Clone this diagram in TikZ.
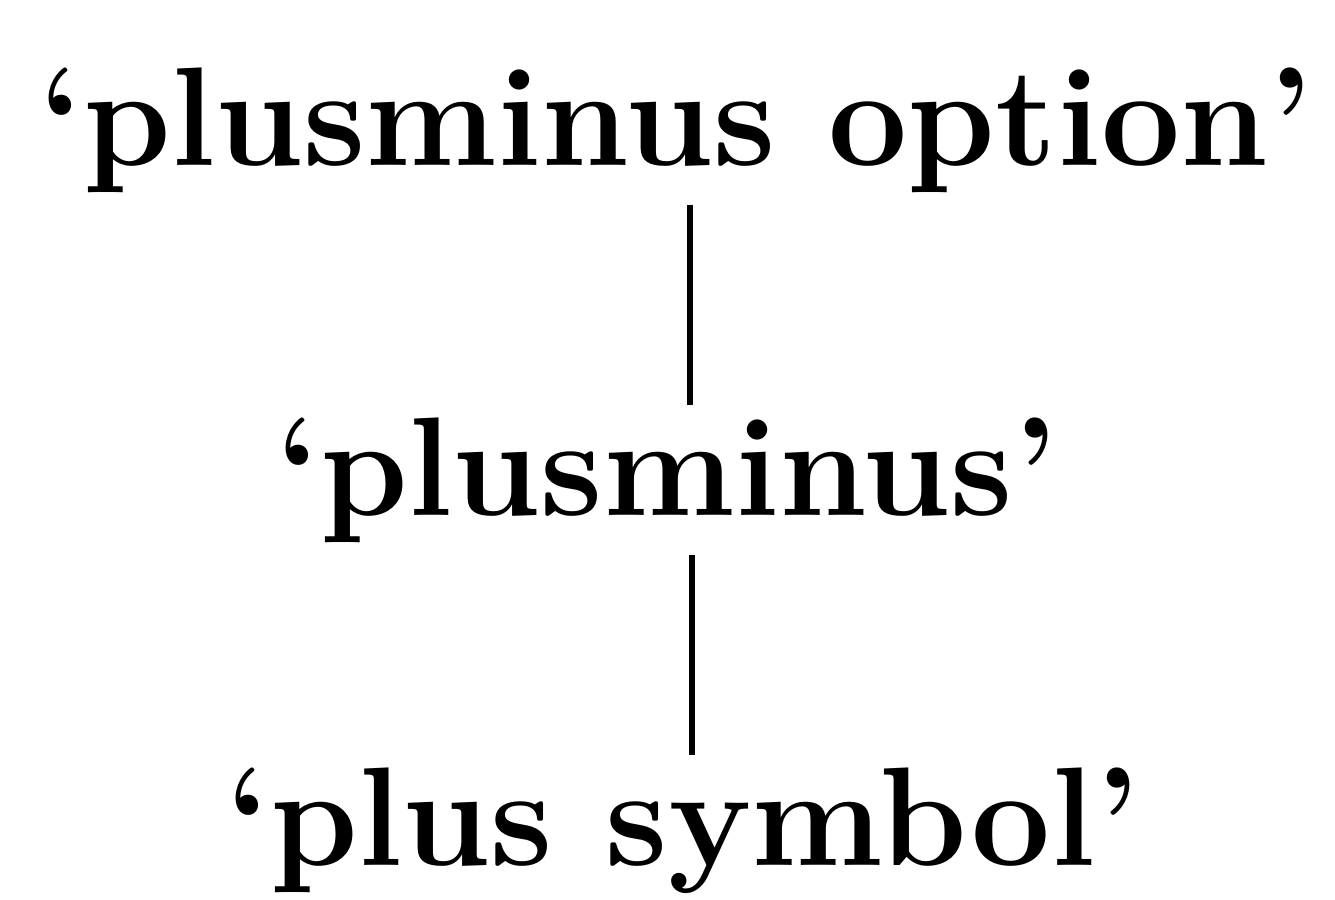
\documentclass[tikz,border=0pt]{standalone}
\begin{document}
\begin{tikzpicture}[x=0.01cm,y=-0.01cm,
  term/.style={font=\fontsize{40}{44}\selectfont\bfseries, inner sep=0.12cm, anchor=base},
  link/.style={line width=1.9pt}]
\useasboundingbox (0,0) rectangle (1335,899);
\node[term] (a) at (676,165) {`plusminus option'};
\node[term] (b) at (667,515) {`plusminus'};
\node[term] (c) at (683,865) {`plus symbol'};
\coordinate (l1) at (690,0);
\coordinate (l2) at (692,0);
\draw[link] (a.south -| l1) -- (b.north -| l1);
\draw[link] (b.south -| l2) -- (c.north -| l2);
\end{tikzpicture}
\end{document}
